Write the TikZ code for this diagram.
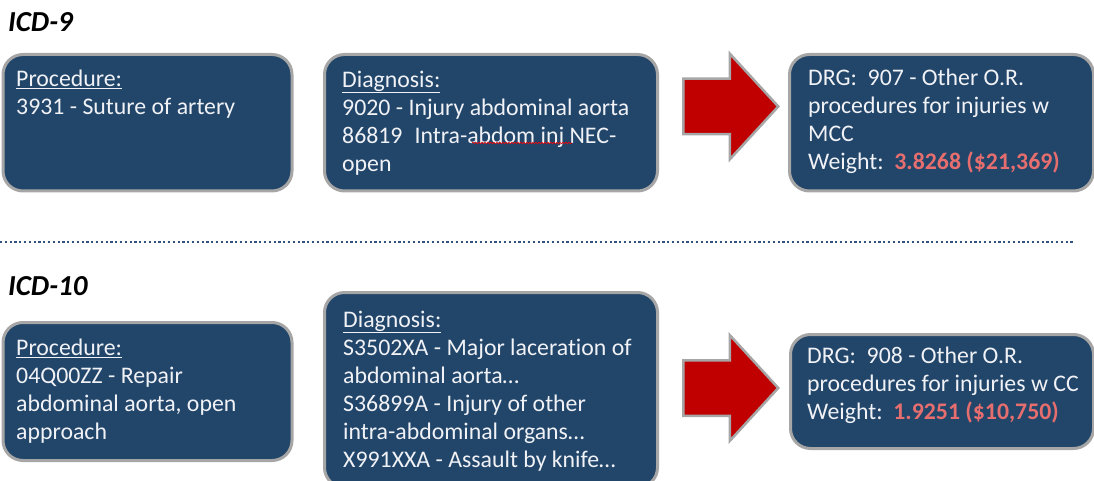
\documentclass[tikz,border=0pt]{standalone}
\usepackage{fontspec}
\setmainfont{Carlito}[Ligatures=NoCommon]
\usetikzlibrary{positioning,shapes.arrows,decorations.pathmorphing}

\definecolor{boxblue}{RGB}{34,69,106}
\definecolor{boxrim}{RGB}{166,166,166}
\definecolor{arrowred}{RGB}{192,0,0}
\definecolor{weightred}{RGB}{230,110,110}
\definecolor{dotblue}{RGB}{47,84,128}
\definecolor{boxtext}{RGB}{240,242,246}

\newcommand{\wgt}[1]{\textcolor{weightred}{\bfseries #1}}

\tikzset{
  codebox/.style={draw=boxrim, line width=3pt, fill=boxblue, rounded corners=20pt, inner sep=0pt, anchor=north west},
  boxtxt/.style={text=boxtext, align=left, inner sep=0pt, anchor=north west, font=\fontsize{23.8}{28}\selectfont},
  heading/.style={font=\fontsize{29}{32}\selectfont\bfseries\itshape, inner sep=0pt, anchor=base west},
  bigarrow/.style={single arrow, draw=boxrim, line width=2.5pt, fill=arrowred, minimum height=95pt, inner xsep=0pt, inner ysep=26.5pt, single arrow head extend=25pt, single arrow tip angle=95, anchor=tail}
}

\begin{document}
\begin{tikzpicture}[x=1pt,y=-1pt]
\useasboundingbox (0,0) rectangle (1094,481);
\clip (0,0) rectangle (1094,481);

% ICD-9
\node[heading] (icd9) at (8,32) {ICD-9};
\node[codebox, minimum width=289pt, minimum height=136.5pt] (p9) at (1.5,53) {};
\node[codebox, minimum width=333pt, minimum height=136.5pt] (d9) at (323,53) {};
\node[codebox, minimum width=304pt, minimum height=136.5pt] (drg9) at (788,53) {};
\node[bigarrow] (a9) at (682,106.5) {};

\node[boxtxt, below right=13.4pt and 14.5pt of p9.north west] (p9txt) {\strut\underline{Procedure:}\\3931 - Suture of artery};
\node[boxtxt, below right=14.4pt and 19pt of d9.north west] (d9txt) {\strut\underline{Diagnosis:}\\9020 - Injury abdominal aorta\\86819\hspace{12pt}Intra-abdom inj NEC-\\open};
\node[boxtxt, below right=12.4pt and 20pt of drg9.north west] (drg9txt) {\strut DRG:~~907 - Other O.R.\\procedures for injuries w\\MCC\\Weight:~~\wgt{3.8268 (\$21,369)}};
\draw[red, line width=0.6pt, decorate, decoration={snake, amplitude=0.8pt, segment length=3pt}] (472,143) -- (572,143);

% separator
\draw[dotblue, line width=2.2pt, dash pattern=on 2.2pt off 2.6pt] (0,242) -- (1073,242);

% ICD-10
\node[heading] (icd10) at (8,295) {ICD-10};
\node[codebox, minimum width=289pt, minimum height=138pt] (p10) at (1.5,321) {};
\node[codebox, minimum width=333pt, minimum height=195pt] (d10) at (323,291) {};
\node[codebox, minimum width=303pt, minimum height=114pt] (drg10) at (789,333) {};
\node[bigarrow] (a10) at (682,388) {};

\node[boxtxt, below right=14.4pt and 14.5pt of p10.north west] (p10txt) {\strut\underline{Procedure:}\\04Q00ZZ - Repair\\abdominal aorta, open\\approach};
\node[boxtxt, below right=16.4pt and 20pt of d10.north west] (d10txt) {\strut\underline{Diagnosis:}\\S3502XA - Major laceration of\\abdominal aorta…\\S36899A - Injury of other\\intra-abdominal organs…\\X991XXA - Assault by knife…};
\node[boxtxt, below right=10.4pt and 18pt of drg10.north west] (drg10txt) {\strut DRG:~~908 - Other O.R.\\procedures for injuries w CC\\Weight:~~\wgt{1.9251 (\$10,750)}};
\end{tikzpicture}
\end{document}
